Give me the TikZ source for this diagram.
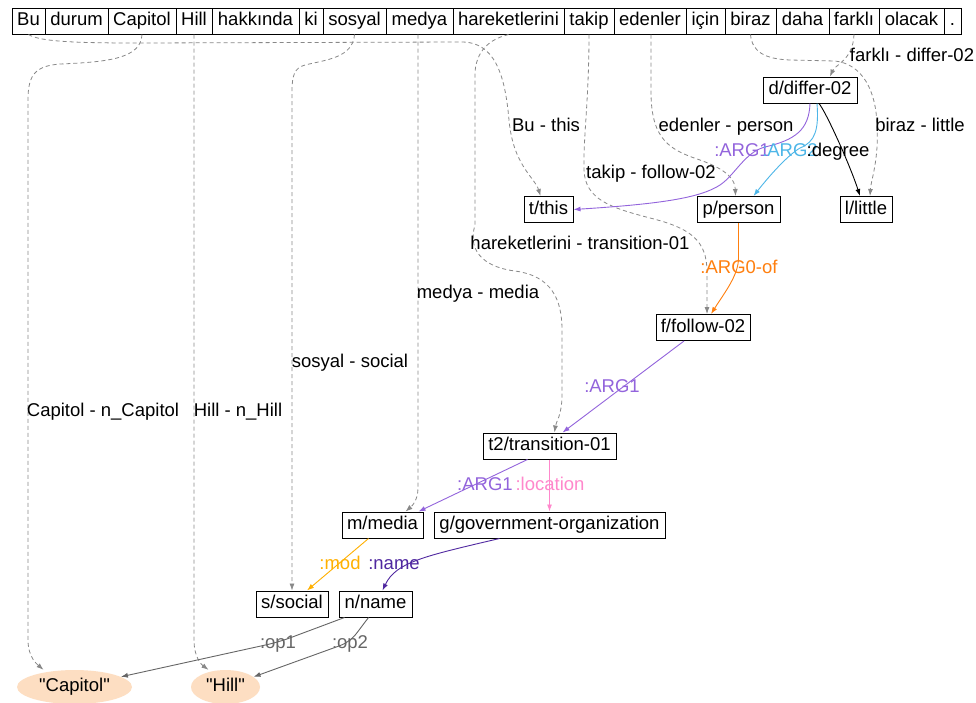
\documentclass[tikz,border=0pt]{standalone}
\usepackage{fontspec}
\setmainfont{Liberation Sans}[Ligatures=TeXOff]
\usetikzlibrary{arrows.meta,shapes.geometric}
\definecolor{cpurple}{RGB}{147,100,220}
\definecolor{cblue}{RGB}{77,182,232}
\definecolor{corange}{RGB}{255,127,14}
\definecolor{cpink}{RGB}{255,136,204}
\definecolor{cgold}{RGB}{255,176,0}
\definecolor{cindigo}{RGB}{80,40,160}
\definecolor{cgray}{RGB}{102,102,102}
\definecolor{dgray}{RGB}{136,136,136}
\definecolor{peach}{RGB}{253,222,194}
\begin{document}
\begin{tikzpicture}[x=1pt,y=-1pt,font=\fontsize{18.5}{22}\selectfont,
  box/.style={draw=black,line width=1pt,inner sep=0pt,minimum height=26pt,text height=13.3pt,text depth=3.9pt},
  ent/.style={ellipse,fill=peach,inner sep=0pt,minimum height=34pt,text height=13.3pt,text depth=3.9pt},
  alnk/.style={dgray,line width=0.8pt,dash pattern=on 4pt off 3pt,-{Latex[length=7pt,width=5pt]}},
  rel/.style={line width=0.9pt,-{Latex[length=7pt,width=5pt]}},
  lab/.style={inner sep=0pt,text height=13.2pt,text depth=0pt},
]
\fill[white] (0,0) rectangle (976,702);
\useasboundingbox (0,0) rectangle (976,702);

% word row
\node[box,minimum width=33] (w1) at (28.5,21) {Bu};
\node[box,minimum width=63] (w2) at (76.5,21) {durum};
\node[box,minimum width=68] (w3) at (142,21) {Capitol};
\node[box,minimum width=36] (w4) at (194,21) {Hill};
\node[box,minimum width=87] (w5) at (255.5,21) {hakkında};
\node[box,minimum width=24] (w6) at (311,21) {ki};
\node[box,minimum width=63] (w7) at (354.5,21) {sosyal};
\node[box,minimum width=67] (w8) at (419.5,21) {medya};
\node[box,minimum width=111] (w9) at (508.5,21) {hareketlerini};
\node[box,minimum width=50] (w10) at (589,21) {takip};
\node[box,minimum width=72] (w11) at (650,21) {edenler};
\node[box,minimum width=39] (w12) at (705.5,21) {için};
\node[box,minimum width=51] (w13) at (750.5,21) {biraz};
\node[box,minimum width=53] (w14) at (802.5,21) {daha};
\node[box,minimum width=50] (w15) at (854,21) {farklı};
\node[box,minimum width=65] (w16) at (911.5,21) {olacak};
\node[box,minimum width=17] (w17) at (952.5,21) {.};

% graph nodes
\node[box,minimum width=94] (d) at (810,90) {d/differ-02};
\node[box,minimum width=49] (t) at (548.5,209.5) {t/this};
\node[box,minimum width=83] (p) at (738.5,209.5) {p/person};
\node[box,minimum width=52] (l) at (866,209.5) {l/little};
\node[box,minimum width=94] (f) at (703,327.5) {f/follow-02};
\node[box,minimum width=133] (t2) at (549.5,446) {t2/transition-01};
\node[box,minimum width=81] (m) at (382.5,525) {m/media};
\node[box,minimum width=231] (g) at (549.5,525) {g/government-organization};
\node[box,minimum width=72] (s) at (292,604) {s/social};
\node[box,minimum width=73] (n) at (375.5,604) {n/name};
\node[ent,minimum width=115] (cap) at (74.5,687) {"Capitol"};
\node[ent,minimum width=69] (hill) at (225.5,687) {"Hill"};

% alignment links
\draw[alnk] (w1.south) .. controls (40,42) and (80,43) .. (140,43) -- (460,42) .. controls (495,41) and (505,75) .. (509,120) .. controls (513,165) and (535,178) .. ([xshift=-8]t.north);
\draw[alnk] (w3.south) .. controls (141,58) and (110,62) .. (60,64) .. controls (35,66) and (28,75) .. (28,100) -- (28,640) .. controls (28,658) and (38,665) .. ([xshift=-31]cap.north);
\draw[alnk] (w4.south) -- (194,640) .. controls (194,658) and (202,665) .. ([xshift=-17]hill.north);
\draw[alnk] (w7.south) .. controls (353,58) and (325,60) .. (305,65) .. controls (294,68) and (292,76) .. (292,92) -- (s.north);
\draw[alnk] ([xshift=-1.5]w8.south) -- (418,488) .. controls (418,500) and (412,506) .. ([xshift=23]m.north);
\draw[alnk] (w9.south) .. controls (495,38) and (477,46) .. (475,72) -- (475,225) .. controls (466,255) and (490,268) .. (515,271) .. controls (552,276) and (562,300) .. (562,330) -- (562,395) .. controls (562,415) and (556,422) .. ([xshift=5]t2.north);
\draw[alnk] (w10.south) .. controls (589,100) and (583,140) .. (584,170) .. controls (585,200) and (612,208) .. (650,218) .. controls (690,228) and (707,240) .. (707,272) -- ([xshift=4]f.north);
\draw[alnk] ([xshift=1]w11.south) -- (651,95) .. controls (652,140) and (670,150) .. (700,160) .. controls (728,170) and (735,180) .. ([xshift=-3]p.north);
\draw[alnk] (w13.south) .. controls (752,52) and (765,59) .. (790,60) -- (835,61) .. controls (862,64) and (876,90) .. (877,125) .. controls (879,160) and (871,180) .. ([xshift=4]l.north);
\draw[alnk] (w15.south) .. controls (853,60) and (835,65) .. ([xshift=20]d.north);

% alignment labels
\node[lab] (la1) at (546,125) {Bu - this};
\node[lab] (la2) at (103,410) {Capitol - n\_Capitol};
\node[lab] (la3) at (238,410) {Hill - n\_Hill};
\node[lab] (la4) at (350,361) {sosyal - social};
\node[lab] (la5) at (478,292) {medya - media};
\node[lab] (la6) at (580,243) {hareketlerini - transition-01};
\node[lab] (la7) at (651,172) {takip - follow-02};
\node[lab] (la8) at (726,125) {edenler - person};
\node[lab] (la9) at (920,125) {biraz - little};
\node[lab] (la10) at (912,55) {farklı - differ-02};

% relations
\draw[rel,cpurple] (d.south) .. controls (809,130) and (795,140) .. (765,147) .. controls (745,152) and (735,175) .. (720,185) .. controls (700,198) and (660,204) .. (t.east);
\draw[rel,cblue] ([xshift=7]d.south) .. controls (819,130) and (815,142) .. (800,148) .. controls (788,155) and (770,175) .. ([xshift=15]p.north);
\draw[rel,black] ([xshift=9]d.south) .. controls (826,112) and (850,165) .. ([xshift=-6]l.north);
\draw[rel,corange] (p.south) -- (738.5,258) .. controls (738.5,275) and (725,292) .. ([xshift=8]f.north);
\draw[rel,cpurple] ([xshift=-19]f.south) -- ([xshift=13]t2.north);
\draw[rel,cpurple] ([xshift=-22]t2.south) -- ([xshift=36]m.north);
\draw[rel,cpink] (t2.south) -- (g.north);
\draw[rel,cgold] ([xshift=-14]m.south) -- ([xshift=15]s.north);
\draw[rel,cindigo] ([xshift=-50]g.south) .. controls (425,556) and (396,562) .. ([xshift=7]n.north);
\draw[rel,cgray,rounded corners=12pt] ([xshift=-31]n.south) -- (279,642) -- (cap);
\draw[rel,cgray,rounded corners=10pt] ([xshift=-7]n.south) -- (350,642) -- (hill);

% relation labels
\node[lab,text=cpurple] (r1) at (742,150) {:ARG1};
\node[lab,text=cblue] (r2) at (790,150) {:ARG2};
\node[lab,text=black] (r3) at (838,150) {:degree};
\node[lab,text=corange] (r4) at (739,267) {:ARG0-of};
\node[lab,text=cpurple] (r5) at (612,386) {:ARG1};
\node[lab,text=cpurple] (r6) at (485,484) {:ARG1};
\node[lab,text=cpink] (r7) at (550,484) {:location};
\node[lab,text=cgold] (r8) at (340,563) {:mod};
\node[lab,text=cindigo] (r9) at (394,563) {:name};
\node[lab,text=cgray] (r10) at (278,642) {:op1};
\node[lab,text=cgray] (r11) at (350,642) {:op2};
\end{tikzpicture}
\end{document}
